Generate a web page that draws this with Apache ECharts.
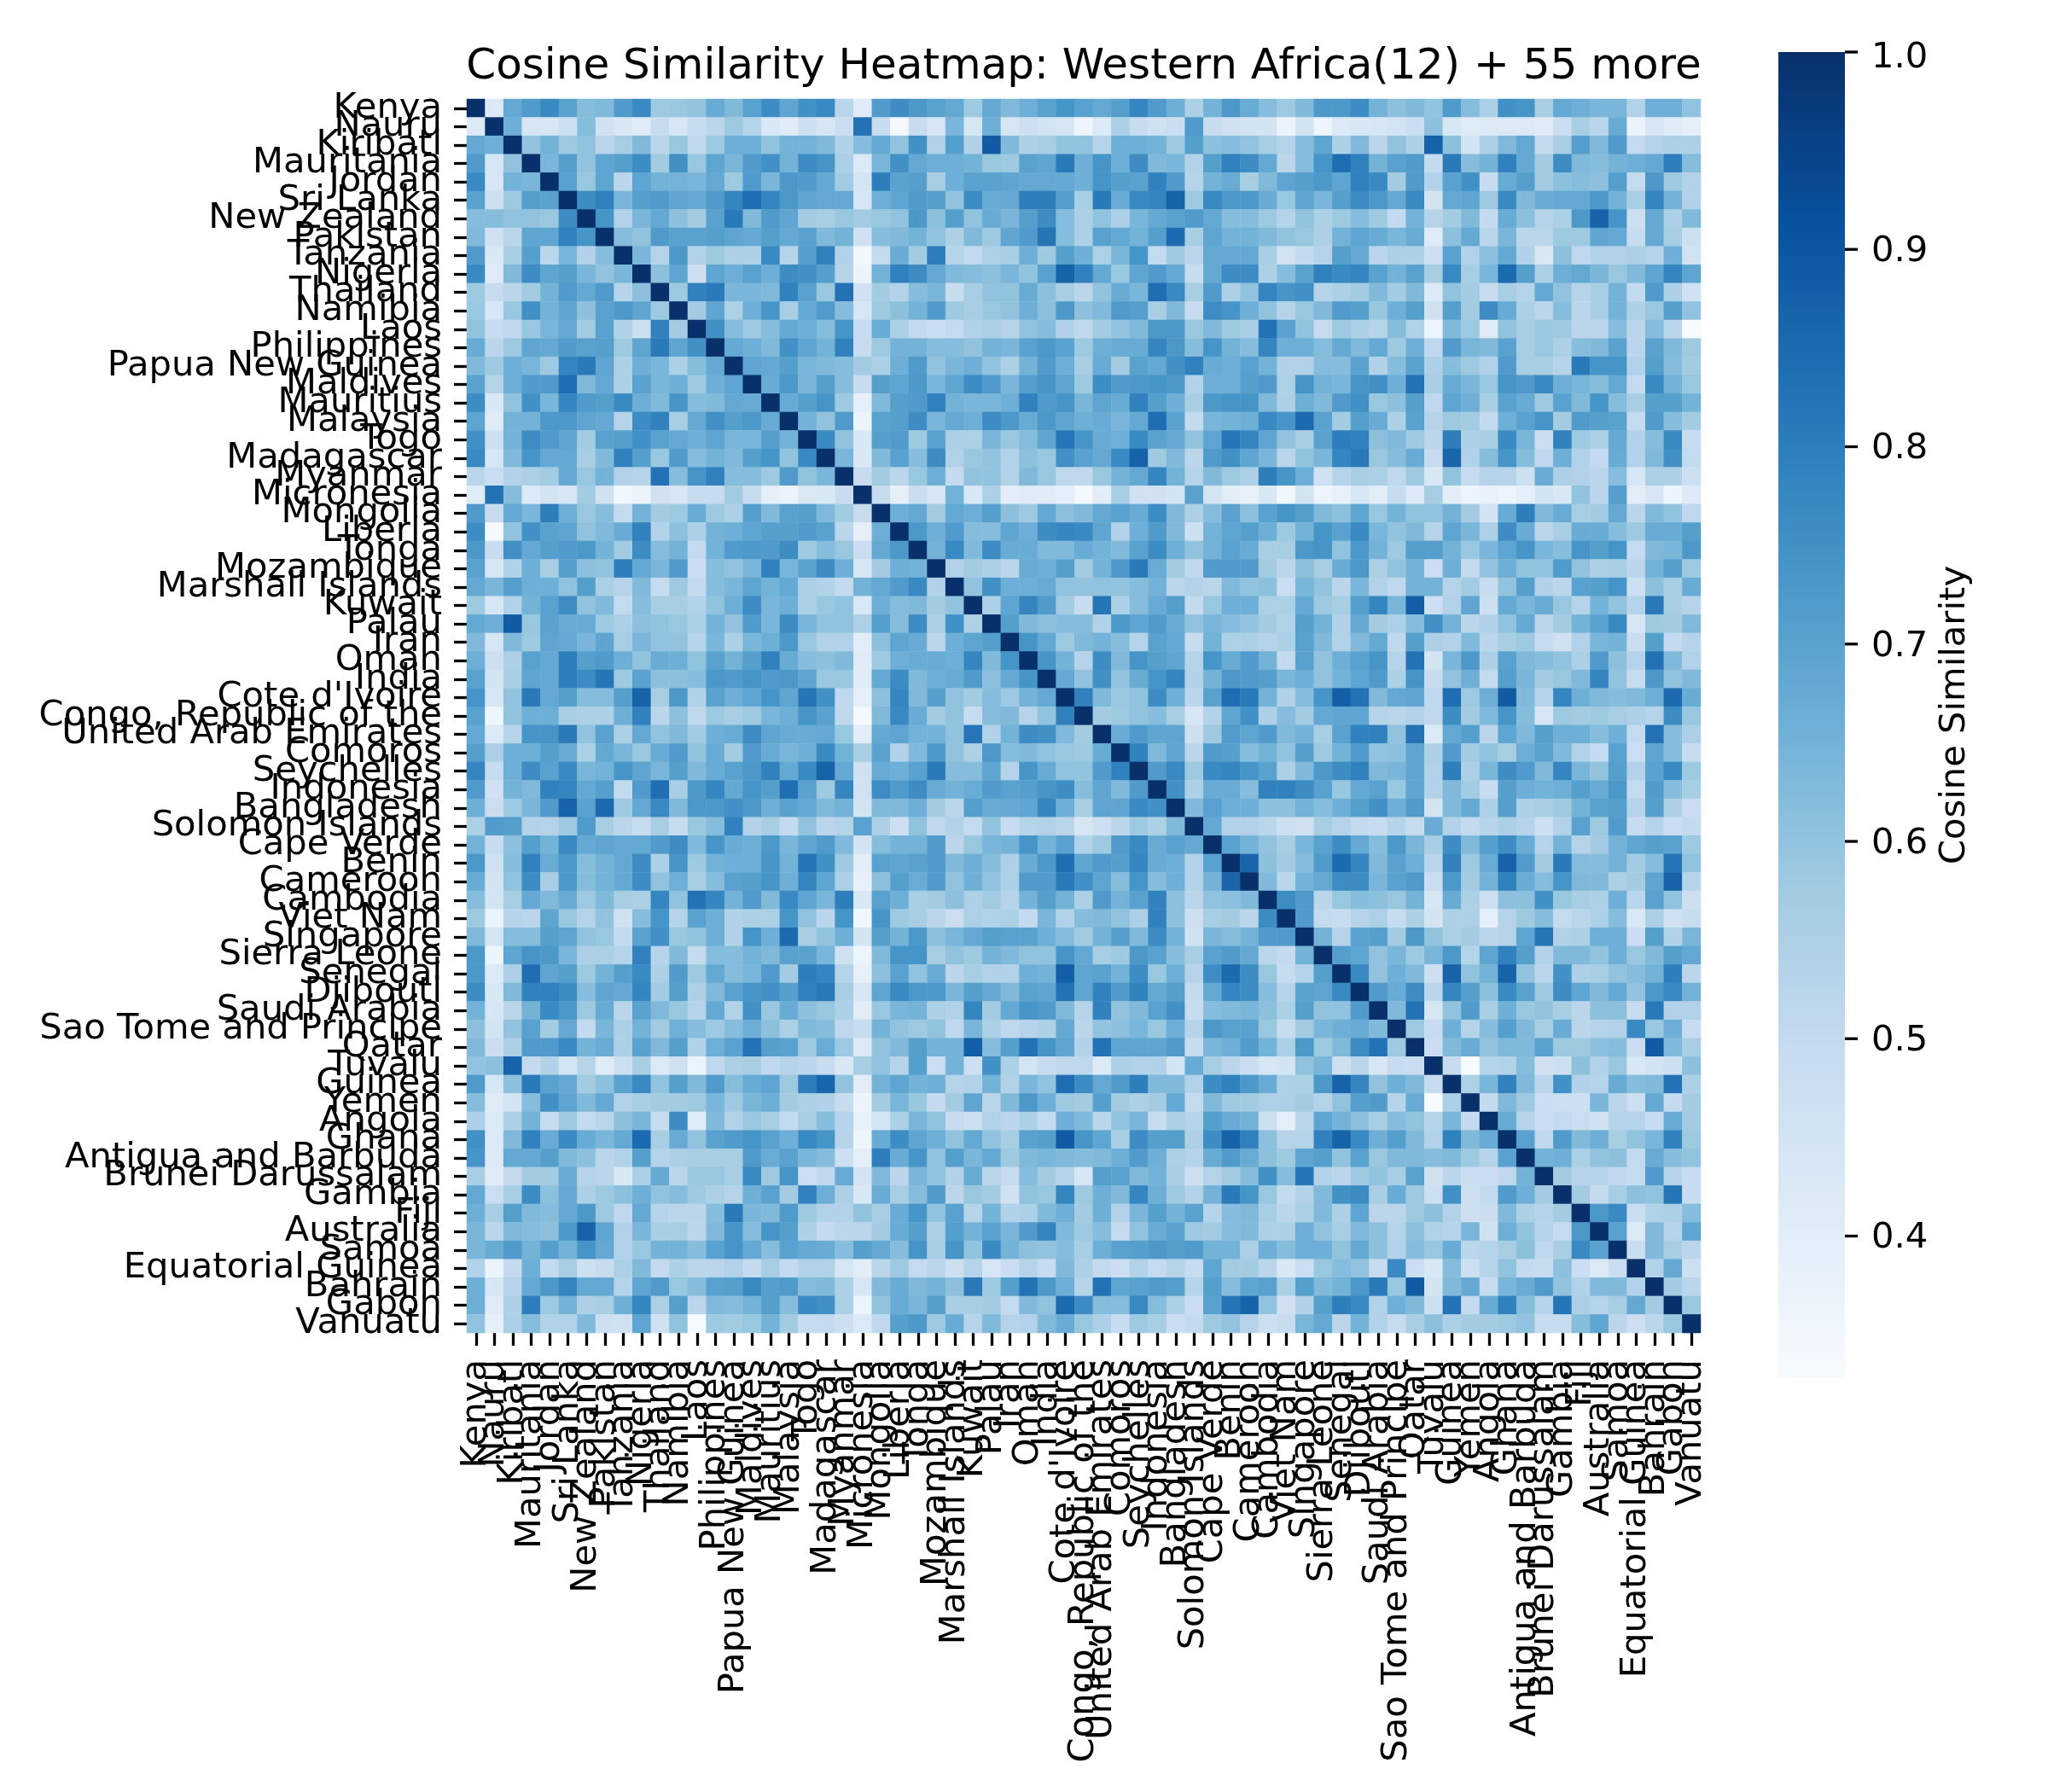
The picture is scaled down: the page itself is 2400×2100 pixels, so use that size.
<!DOCTYPE html>
<html>
<head>
<meta charset="utf-8">
<title>Cosine Similarity Heatmap</title>
<script src="https://cdn.jsdelivr.net/npm/echarts@6/dist/echarts.min.js"></script>
<style>
html,body{margin:0;padding:0;background:#fff}
#chart{width:2400px;height:2100px}
</style>
</head>
<body>
<div id="chart"></div>
<script>
const countries = ["Kenya","Nauru","Kiribati","Mauritania","Jordan","Sri Lanka","New Zealand","Pakistan","Tanzania","Nigeria","Thailand","Namibia","Laos","Philippines","Papua New Guinea","Maldives","Mauritius","Malaysia","Togo","Madagascar","Myanmar","Micronesia","Mongolia","Liberia","Tonga","Mozambique","Marshall Islands","Kuwait","Palau","Iran","Oman","India","Cote d'Ivoire","Congo, Republic of the","United Arab Emirates","Comoros","Seychelles","Indonesia","Bangladesh","Solomon Islands","Cape Verde","Benin","Cameroon","Cambodia","Viet Nam","Singapore","Sierra Leone","Senegal","Djibouti","Saudi Arabia","Sao Tome and Principe","Qatar","Tuvalu","Guinea","Yemen","Angola","Ghana","Antigua and Barbuda","Brunei Darussalam","Gambia","Fiji","Australia","Samoa","Equatorial Guinea","Bahrain","Gabon","Vanuatu"];

// Upper triangle of the similarity matrix, in hundredths.
// Each row holds the values for the columns to the right of its diagonal cell.
const row00 = [42,68,72,77,70,62,63,72,77,58,59,60,67,63,70,76,69,75,77,52,41,72,76,73,70,68,58,68,63,66,70,74,70,68,71,78,72,66,55,65,73,67,62,58,63,73,73,76,65,61,63,60,72,62,55,75,74,56,68,66,64,64,54,66,66,60];
const row01 = [66,44,44,47,62,46,43,41,49,44,49,52,58,53,43,41,47,44,48,83,49,34,49,44,64,44,66,44,47,45,44,36,42,55,49,46,48,72,49,46,45,45,37,45,36,42,43,44,45,48,61,44,41,42,42,42,41,48,56,52,67,37,44,41,39];
const row02 = [60,65,58,60,52,56,63,52,59,51,58,66,66,60,65,65,63,54,62,68,60,75,54,71,54,89,63,55,56,60,60,53,66,66,65,58,71,61,62,60,56,53,62,69,55,63,52,60,55,87,61,45,55,63,68,50,56,71,63,72,50,53,55,55];
const row03 = [64,71,60,69,71,76,57,75,59,69,64,72,75,65,76,74,55,42,64,75,68,66,66,65,59,58,70,69,81,66,74,66,76,63,64,54,71,79,76,68,52,62,74,84,79,65,70,72,50,81,62,65,79,68,57,76,63,62,65,66,68,80,62];
const row04 = [70,59,69,52,69,65,65,64,68,58,72,64,73,72,68,57,45,80,70,71,56,66,70,70,69,68,68,68,66,74,71,70,79,72,53,65,67,56,63,69,71,73,69,79,77,57,72,54,70,75,49,67,71,57,61,62,61,71,50,73,58,54];
const row05 = [76,79,64,71,72,69,68,72,78,84,78,73,69,68,68,44,66,69,72,71,60,76,67,68,80,80,71,56,81,67,77,78,87,58,77,73,73,67,59,69,64,71,76,73,68,77,45,68,69,58,77,63,67,68,68,73,65,56,78,65,54];
const row06 = [74,54,64,68,61,57,70,81,63,72,69,57,56,59,57,59,60,73,61,71,60,67,64,71,76,62,55,60,55,64,68,70,72,68,62,62,58,53,60,55,58,62,58,50,65,53,57,63,50,67,61,53,55,73,87,74,47,68,55,63];
const row07 = [62,60,72,70,70,71,69,68,71,68,70,63,65,46,62,63,65,60,55,63,58,69,72,82,62,55,70,68,65,71,85,56,69,65,65,63,60,59,55,65,69,67,64,67,41,61,68,52,64,52,52,58,58,69,68,49,68,56,47];
const row08 = [64,53,73,54,58,55,55,77,53,71,79,54,35,50,67,57,80,53,50,55,56,66,58,71,66,55,64,74,50,58,52,68,68,68,56,46,50,53,71,68,52,55,55,47,70,54,61,68,54,43,61,51,54,54,55,53,66,46];
const row09 = [61,69,47,69,66,70,66,76,75,71,53,37,65,79,76,68,63,62,61,64,60,70,87,79,68,59,69,72,68,49,68,76,76,55,62,70,79,77,78,70,65,70,56,77,56,64,85,71,55,66,68,64,59,63,69,78,69];
const row10 = [58,79,81,64,64,63,79,70,59,83,46,57,54,62,64,49,56,60,60,67,61,56,52,60,67,64,84,77,56,72,55,60,78,74,75,53,55,57,63,57,63,42,60,57,49,56,53,68,60,53,56,65,50,72,55,46];
const row11 = [57,69,55,66,74,56,68,72,62,44,58,61,65,72,58,56,59,60,66,61,73,61,63,72,71,56,63,49,76,74,66,60,53,59,63,72,71,59,66,71,46,71,57,76,67,55,52,62,52,56,65,55,59,71,60];
const row12 = [75,62,58,62,68,66,62,74,49,67,55,50,48,50,54,55,53,60,62,54,51,57,60,63,73,73,59,63,58,56,83,70,60,50,58,55,53,62,54,36,63,58,41,60,56,59,58,52,52,62,52,62,52,33];
const row13 = [68,66,63,75,69,65,79,49,58,65,65,62,62,60,65,64,70,73,70,58,66,67,67,78,73,62,74,65,62,78,66,66,62,68,63,68,58,66,51,72,64,63,70,56,59,55,62,63,70,52,70,63,58];
const row14 = [69,68,71,64,63,62,57,55,66,72,60,64,66,60,55,65,72,66,56,67,57,70,68,75,79,67,66,70,65,54,54,62,62,70,54,62,70,55,62,58,54,72,56,56,53,81,74,74,54,71,62,57];
const row15 = [67,73,64,71,62,49,71,69,73,64,69,76,72,64,71,74,69,58,76,72,73,74,73,54,66,66,71,72,55,74,65,64,74,75,66,83,56,67,64,59,74,72,77,66,64,62,68,50,77,65,59];
const row16 = [67,71,74,58,39,63,71,72,79,65,64,64,66,79,72,74,64,69,67,79,71,66,56,73,74,74,63,55,66,63,72,75,59,61,71,51,69,66,56,70,67,58,70,63,74,62,56,71,71,65];
const row17 = [65,60,72,37,70,71,76,64,68,66,76,73,67,73,69,66,67,64,68,84,70,50,64,65,66,77,74,85,70,57,71,67,55,70,53,58,57,50,66,70,74,57,72,71,70,50,72,62,57];
const row18 = [77,60,43,71,72,58,70,55,55,64,59,62,69,82,74,67,66,77,70,68,60,69,82,78,69,60,56,70,80,79,61,63,58,52,80,55,56,77,64,48,79,58,55,68,54,62,77,49];
const row19 = [64,43,63,70,62,76,54,59,60,54,61,59,75,70,68,77,87,58,63,52,72,75,69,64,52,60,64,78,81,59,62,67,49,86,54,62,74,62,51,66,54,50,67,54,63,75,50];
const row20 = [49,57,52,59,66,50,60,60,54,63,59,51,51,59,65,68,78,65,53,63,58,55,80,74,66,46,53,56,55,51,58,43,60,49,53,53,47,67,55,54,52,62,44,55,55,47];
const row21 = [49,39,48,44,65,43,55,40,41,41,39,34,40,56,46,46,45,70,45,40,38,43,35,45,36,38,44,40,49,42,56,40,36,38,36,39,45,43,60,52,71,40,44,36,42];
const row22 = [66,68,57,68,66,71,61,58,68,61,63,68,70,67,76,63,55,62,70,61,70,74,71,63,61,69,59,65,60,60,65,57,45,67,80,63,67,56,57,68,52,63,60,51];
const row23 = [73,66,72,62,62,69,66,76,78,77,69,54,66,72,63,47,65,69,71,66,58,65,74,70,77,64,60,63,53,69,64,55,76,67,52,56,67,67,62,58,67,67,71];
const row24 = [65,77,63,76,67,67,63,63,67,65,63,70,76,66,60,65,70,67,56,56,73,74,60,73,65,58,71,71,65,59,64,69,74,64,62,74,71,74,50,63,64,73];
const row25 = [54,57,55,52,67,66,71,57,65,73,81,67,57,51,72,72,72,57,52,61,56,67,73,55,60,65,48,66,50,60,66,60,60,72,60,55,56,52,65,71,58];
const row26 = [60,75,66,66,67,60,60,60,60,62,65,52,54,52,63,60,61,48,64,60,52,64,54,51,65,65,53,57,49,60,71,54,52,70,71,74,47,61,56,67];
const row27 = [55,69,78,72,57,49,82,55,62,67,71,50,59,66,66,55,55,68,58,56,71,78,64,88,47,54,69,47,68,64,67,59,53,65,60,53,81,56,53];
const row28 = [71,63,61,62,62,54,73,69,72,67,60,64,62,60,57,54,71,65,54,68,57,55,62,75,65,52,54,60,68,52,57,65,70,77,44,58,57,63];
const row29 = [74,68,58,63,65,62,53,70,68,49,65,55,55,53,55,70,63,54,63,68,51,71,55,54,63,52,56,58,49,46,54,64,65,48,71,50,53];
const row30 = [74,65,53,76,63,74,71,69,53,74,67,72,65,50,70,60,66,70,74,53,83,45,64,73,55,70,63,62,60,55,72,61,53,83,63,54];
const row31 = [68,60,75,60,67,74,78,54,65,73,72,71,64,66,60,65,69,72,55,74,49,60,66,50,71,64,57,59,63,78,60,49,73,60,63];
const row32 = [79,63,59,60,76,66,52,70,84,81,65,54,62,74,88,83,63,68,69,51,84,58,66,89,63,53,78,66,63,62,63,66,85,67];
const row33 = [57,58,60,62,56,44,54,69,75,55,62,57,68,69,69,53,52,54,51,76,57,63,74,62,44,58,57,58,56,55,53,76,59];
const row34 = [67,72,69,69,47,58,72,69,72,63,65,56,70,79,79,60,83,42,68,71,52,69,63,71,66,66,62,66,50,83,62,55];
const row35 = [79,63,69,52,72,71,62,65,60,71,58,65,72,60,61,69,55,72,57,60,56,66,70,63,54,50,70,48,69,62,49];
const row36 = [72,77,58,77,78,74,70,55,63,73,76,79,63,64,69,54,80,55,64,76,72,63,78,64,60,71,54,70,77,58];
const row37 = [75,55,67,67,62,79,79,76,70,59,68,70,59,69,54,63,57,49,71,66,65,66,71,67,73,50,72,62,56];
const row38 = [63,70,66,66,61,61,65,62,66,71,75,66,72,45,63,68,55,71,55,56,58,65,70,71,53,71,55,48];
const row39 = [68,54,54,52,47,46,56,53,50,49,53,49,67,54,50,53,55,53,47,54,70,58,72,49,53,48,50];
const row40 = [70,65,60,56,64,70,76,68,62,73,64,56,76,63,71,76,67,53,65,53,57,65,69,71,70,58];
const row41 = [86,61,57,62,72,85,78,63,70,66,52,79,58,67,87,72,57,81,62,62,65,57,62,82,60];
const row42 = [63,52,65,68,76,76,64,70,72,48,73,57,65,79,67,62,74,63,63,55,57,69,87,53];
const row43 = [76,72,52,59,62,61,59,65,44,67,55,47,61,61,75,59,56,55,66,52,70,60,47];
const row44 = [72,50,49,53,55,49,55,45,55,55,39,53,58,62,50,52,55,62,43,55,46,49];
const row45 = [65,53,70,71,57,73,60,55,57,52,53,69,82,54,55,66,66,48,71,54,64];
const row46 = [71,69,60,64,58,64,73,53,69,79,71,54,63,63,60,66,59,63,71,68];
const row47 = [77,60,66,63,47,87,60,65,87,60,52,75,55,56,60,62,65,80,52];
const row48 = [72,67,76,52,78,71,61,77,70,58,76,69,63,68,60,73,77,65];
const row49 = [63,83,44,60,72,56,66,59,60,56,52,61,61,49,81,54,54];
const row50 = [58,49,66,53,62,71,63,56,67,52,53,54,77,59,66,49];
const row51 = [48,63,67,60,63,63,70,58,58,61,62,48,89,63,56];
const row52 = [49,33,53,54,62,46,47,61,54,59,43,45,47,61];
const row53 = [55,64,79,63,52,75,54,53,67,62,63,83,55];
const row54 = [50,63,58,48,47,47,64,52,47,68,50,57];
const row55 = [67,53,48,50,48,46,53,53,49,67,57];
const row56 = [70,51,72,63,66,56,60,64,79,58];
const row57 = [65,66,55,60,61,50,67,62,60];
const row58 = [57,53,53,51,49,72,53,49];
const row59 = [57,50,56,61,60,82,49];
const row60 = [73,77,48,54,55,62];
const row61 = [70,42,63,53,69];
const row62 = [48,63,56,52];
const row63 = [54,68,47];
const row64 = [57,52];
const row65 = [59];

const upperRows = [row00,row01,row02,row03,row04,row05,row06,row07,row08,row09,row10,row11,row12,row13,row14,row15,row16,row17,row18,row19,row20,row21,row22,row23,row24,row25,row26,row27,row28,row29,row30,row31,row32,row33,row34,row35,row36,row37,row38,row39,row40,row41,row42,row43,row44,row45,row46,row47,row48,row49,row50,row51,row52,row53,row54,row55,row56,row57,row58,row59,row60,row61,row62,row63,row64,row65,[]];

const colorbarTicks = [0.4,0.5,0.6,0.7,0.8,0.9,1.0];
const scaleMin = 0.328;
const scaleMax = 1;
const blues = ['#f7fbff','#deebf7','#c6dbef','#9ecae1','#6baed6','#4292c6','#2171b5','#08519c','#08306b'];

// Mirror the upper triangle into full [x, y, value] cells, with 1 on the diagonal.
const cells = [];
upperRows.forEach((row, r) => {
  cells.push([r, r, 1]);
  row.forEach((v, k) => {
    const c = r + 1 + k;
    cells.push([c, r, v / 100]);
    cells.push([r, c, v / 100]);
  });
});

const FONT = 'DejaVu Sans';
const TICK_SIZE = 41.67;
const BAR_WIDTH = 78;
const TICK_LENGTH = 15;

const chart = echarts.init(document.getElementById('chart'), null, {renderer: 'canvas'});
chart.setOption({
  animation: false,
  backgroundColor: '#ffffff',
  title: {
    text: 'Cosine Similarity Heatmap: Western Africa(12) + 55 more',
    left: 1265,
    top: 49,
    textAlign: 'center',
    textStyle: {fontFamily: FONT, fontSize: 50, fontWeight: 'normal', color: '#000'}
  },
  grid: [
    {left: 547, top: 116, width: 1446, height: 1446},
    {left: 2084, top: 61, width: BAR_WIDTH, height: 1554}
  ],
  xAxis: [
    {
      type: 'category', gridIndex: 0, data: countries, position: 'bottom',
      axisLine: {show: false},
      axisTick: {show: true, alignWithLabel: true, interval: 0, length: TICK_LENGTH, lineStyle: {color: '#000', width: 3.3}},
      axisLabel: {interval: 0, rotate: 90, margin: 31, hideOverlap: false, fontFamily: FONT, fontSize: TICK_SIZE, color: '#000'},
      splitLine: {show: false}
    },
    {type: 'category', gridIndex: 1, show: false, data: ['scale']}
  ],
  yAxis: [
    {
      type: 'category', gridIndex: 0, data: countries, inverse: true,
      axisLine: {show: false},
      axisTick: {show: true, alignWithLabel: true, interval: 0, length: TICK_LENGTH, lineStyle: {color: '#000', width: 3.3}},
      axisLabel: {interval: 0, margin: 29, hideOverlap: false, fontFamily: FONT, fontSize: TICK_SIZE, color: '#000'},
      splitLine: {show: false}
    },
    {
      type: 'value', gridIndex: 1, position: 'right', min: scaleMin, max: scaleMax,
      name: 'Cosine Similarity', nameLocation: 'middle', nameRotate: 90, nameGap: 108,
      nameTextStyle: {fontFamily: FONT, fontSize: TICK_SIZE, color: '#000'},
      axisLine: {show: false},
      axisTick: {show: false},
      axisLabel: {show: false},
      splitLine: {show: false}
    }
  ],
  visualMap: {
    show: false,
    type: 'continuous',
    seriesIndex: 0,
    min: scaleMin,
    max: scaleMax,
    inRange: {color: blues}
  },
  series: [
    {
      type: 'heatmap',
      xAxisIndex: 0,
      yAxisIndex: 0,
      data: cells,
      progressive: 0,
      itemStyle: {borderWidth: 0},
      emphasis: {disabled: true},
      silent: true
    },
    {
      // Colour scale strip, running the whole range of the value axis beside it.
      type: 'bar',
      xAxisIndex: 1,
      yAxisIndex: 1,
      barWidth: '100%',
      silent: true,
      data: [scaleMax],
      itemStyle: {
        color: {
          type: 'linear', x: 0, y: 1, x2: 0, y2: 0,
          colorStops: blues.map((c, i) => ({offset: i / (blues.length - 1), color: c}))
        }
      }
    },
    {
      // Tick marks and their labels on the right edge of the colour scale.
      type: 'scatter',
      xAxisIndex: 1,
      yAxisIndex: 1,
      silent: true,
      clip: false,
      symbol: 'rect',
      symbolSize: [TICK_LENGTH, 3.3],
      symbolOffset: [BAR_WIDTH / 2 + TICK_LENGTH / 2, 0],
      itemStyle: {color: '#000', opacity: 1},
      label: {
        show: true,
        position: 'right',
        distance: 16,
        formatter: p => p.value[1].toFixed(1),
        fontFamily: FONT,
        fontSize: TICK_SIZE,
        color: '#000'
      },
      data: colorbarTicks.map(v => ({value: ['scale', v], label: {offset: [0, v === scaleMax ? 7 : 3]}}))
    }
  ]
});
</script>
</body>
</html>
